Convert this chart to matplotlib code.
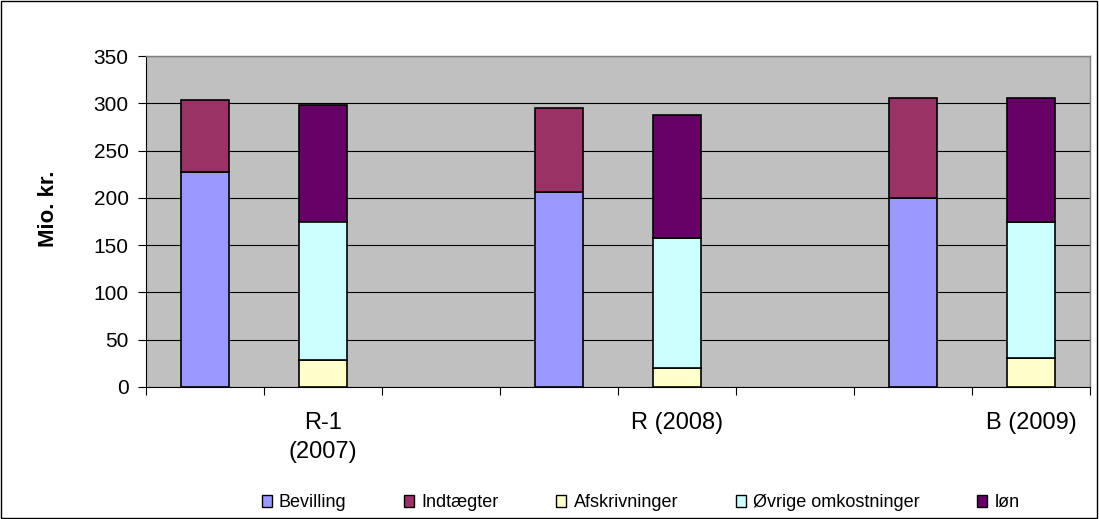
import numpy as np
import matplotlib.pyplot as plt
from matplotlib.patches import Rectangle, Patch
from matplotlib.ticker import FixedLocator

# 8 category slots, bars only in some of them
categories = ['', 'R-1\n(2007)', '', '', 'R (2008)', '', '', 'B (2009)']

# funding bars (slots 0, 3, 6)
bevilling = [227, 0, 0, 206, 0, 0, 200, 0]
indtaegter = [77, 0, 0, 89, 0, 0, 106, 0]
# cost bars (slots 1, 4, 7)
afskrivninger = [0, 29, 0, 0, 20, 0, 0, 31]
oevrige = [0, 146, 0, 0, 138, 0, 0, 144]
loen = [0, 123, 0, 0, 130, 0, 0, 131]

series = [
    ('Bevilling', bevilling, '#9999FF'),
    ('Indtægter', indtaegter, '#993366'),
    ('Afskrivninger', afskrivninger, '#FFFFCC'),
    ('Øvrige omkostninger', oevrige, '#CCFFFF'),
    ('løn', loen, '#660066'),
]

plt.rcParams['font.family'] = ['Liberation Sans', 'DejaVu Sans']

fig = plt.figure(figsize=(10.99, 5.19), dpi=100)
fig.patches.append(Rectangle((0.0005, 0.001), 0.998, 0.997, transform=fig.transFigure,
                             fill=False, edgecolor='black', linewidth=1))
ax = fig.add_axes([146 / 1099, 1 - 387 / 519, 944 / 1099, 331 / 519])
ax.set_facecolor('#C0C0C0')

x = np.arange(len(categories))
bottom = np.zeros(len(categories))
for name, vals, color in series:
    vals = np.array(vals, dtype=float)
    mask = vals > 0
    ax.bar(x[mask], vals[mask], width=0.41, bottom=bottom[mask], color=color,
           edgecolor='black', linewidth=1.2, zorder=3)
    bottom += vals

ax.set_xlim(-0.5, len(categories) - 0.5)
ax.set_ylim(0, 350)
ax.set_yticks(range(0, 351, 50))
ax.yaxis.grid(True, color='black', linewidth=0.8, zorder=1)
ax.tick_params(axis='y', labelsize=15, length=5.5, width=0.8, pad=7, direction='out')

ax.set_xticks(x)
ax.set_xticklabels(categories, fontsize=17, linespacing=1.42)
ax.tick_params(axis='x', which='major', length=0, pad=18)
ax.xaxis.set_minor_locator(FixedLocator(np.arange(-0.5, len(categories), 1.0)))
ax.tick_params(axis='x', which='minor', length=5.5, width=0.8, direction='out')

for side in ['top', 'right']:
    ax.spines[side].set_color('#808080')
    ax.spines[side].set_linewidth(1)
ax.spines['left'].set_linewidth(0.8)
ax.spines['bottom'].set_linewidth(0.8)

ax.set_ylabel('Mio. kr.', fontsize=16, fontweight='bold')
ax.yaxis.set_label_coords(-0.092, 0.54)

handles = [Patch(facecolor=c, edgecolor='black', linewidth=1) for _, _, c in series]
fig.legend(handles, [n for n, _, _ in series], loc='center', ncol=5,
           bbox_to_anchor=(0.583, 0.031), frameon=False, fontsize=13,
           handlelength=0.55, handleheight=0.6, handletextpad=0.4, columnspacing=3.2)

fig.savefig('out.png', dpi=100)
